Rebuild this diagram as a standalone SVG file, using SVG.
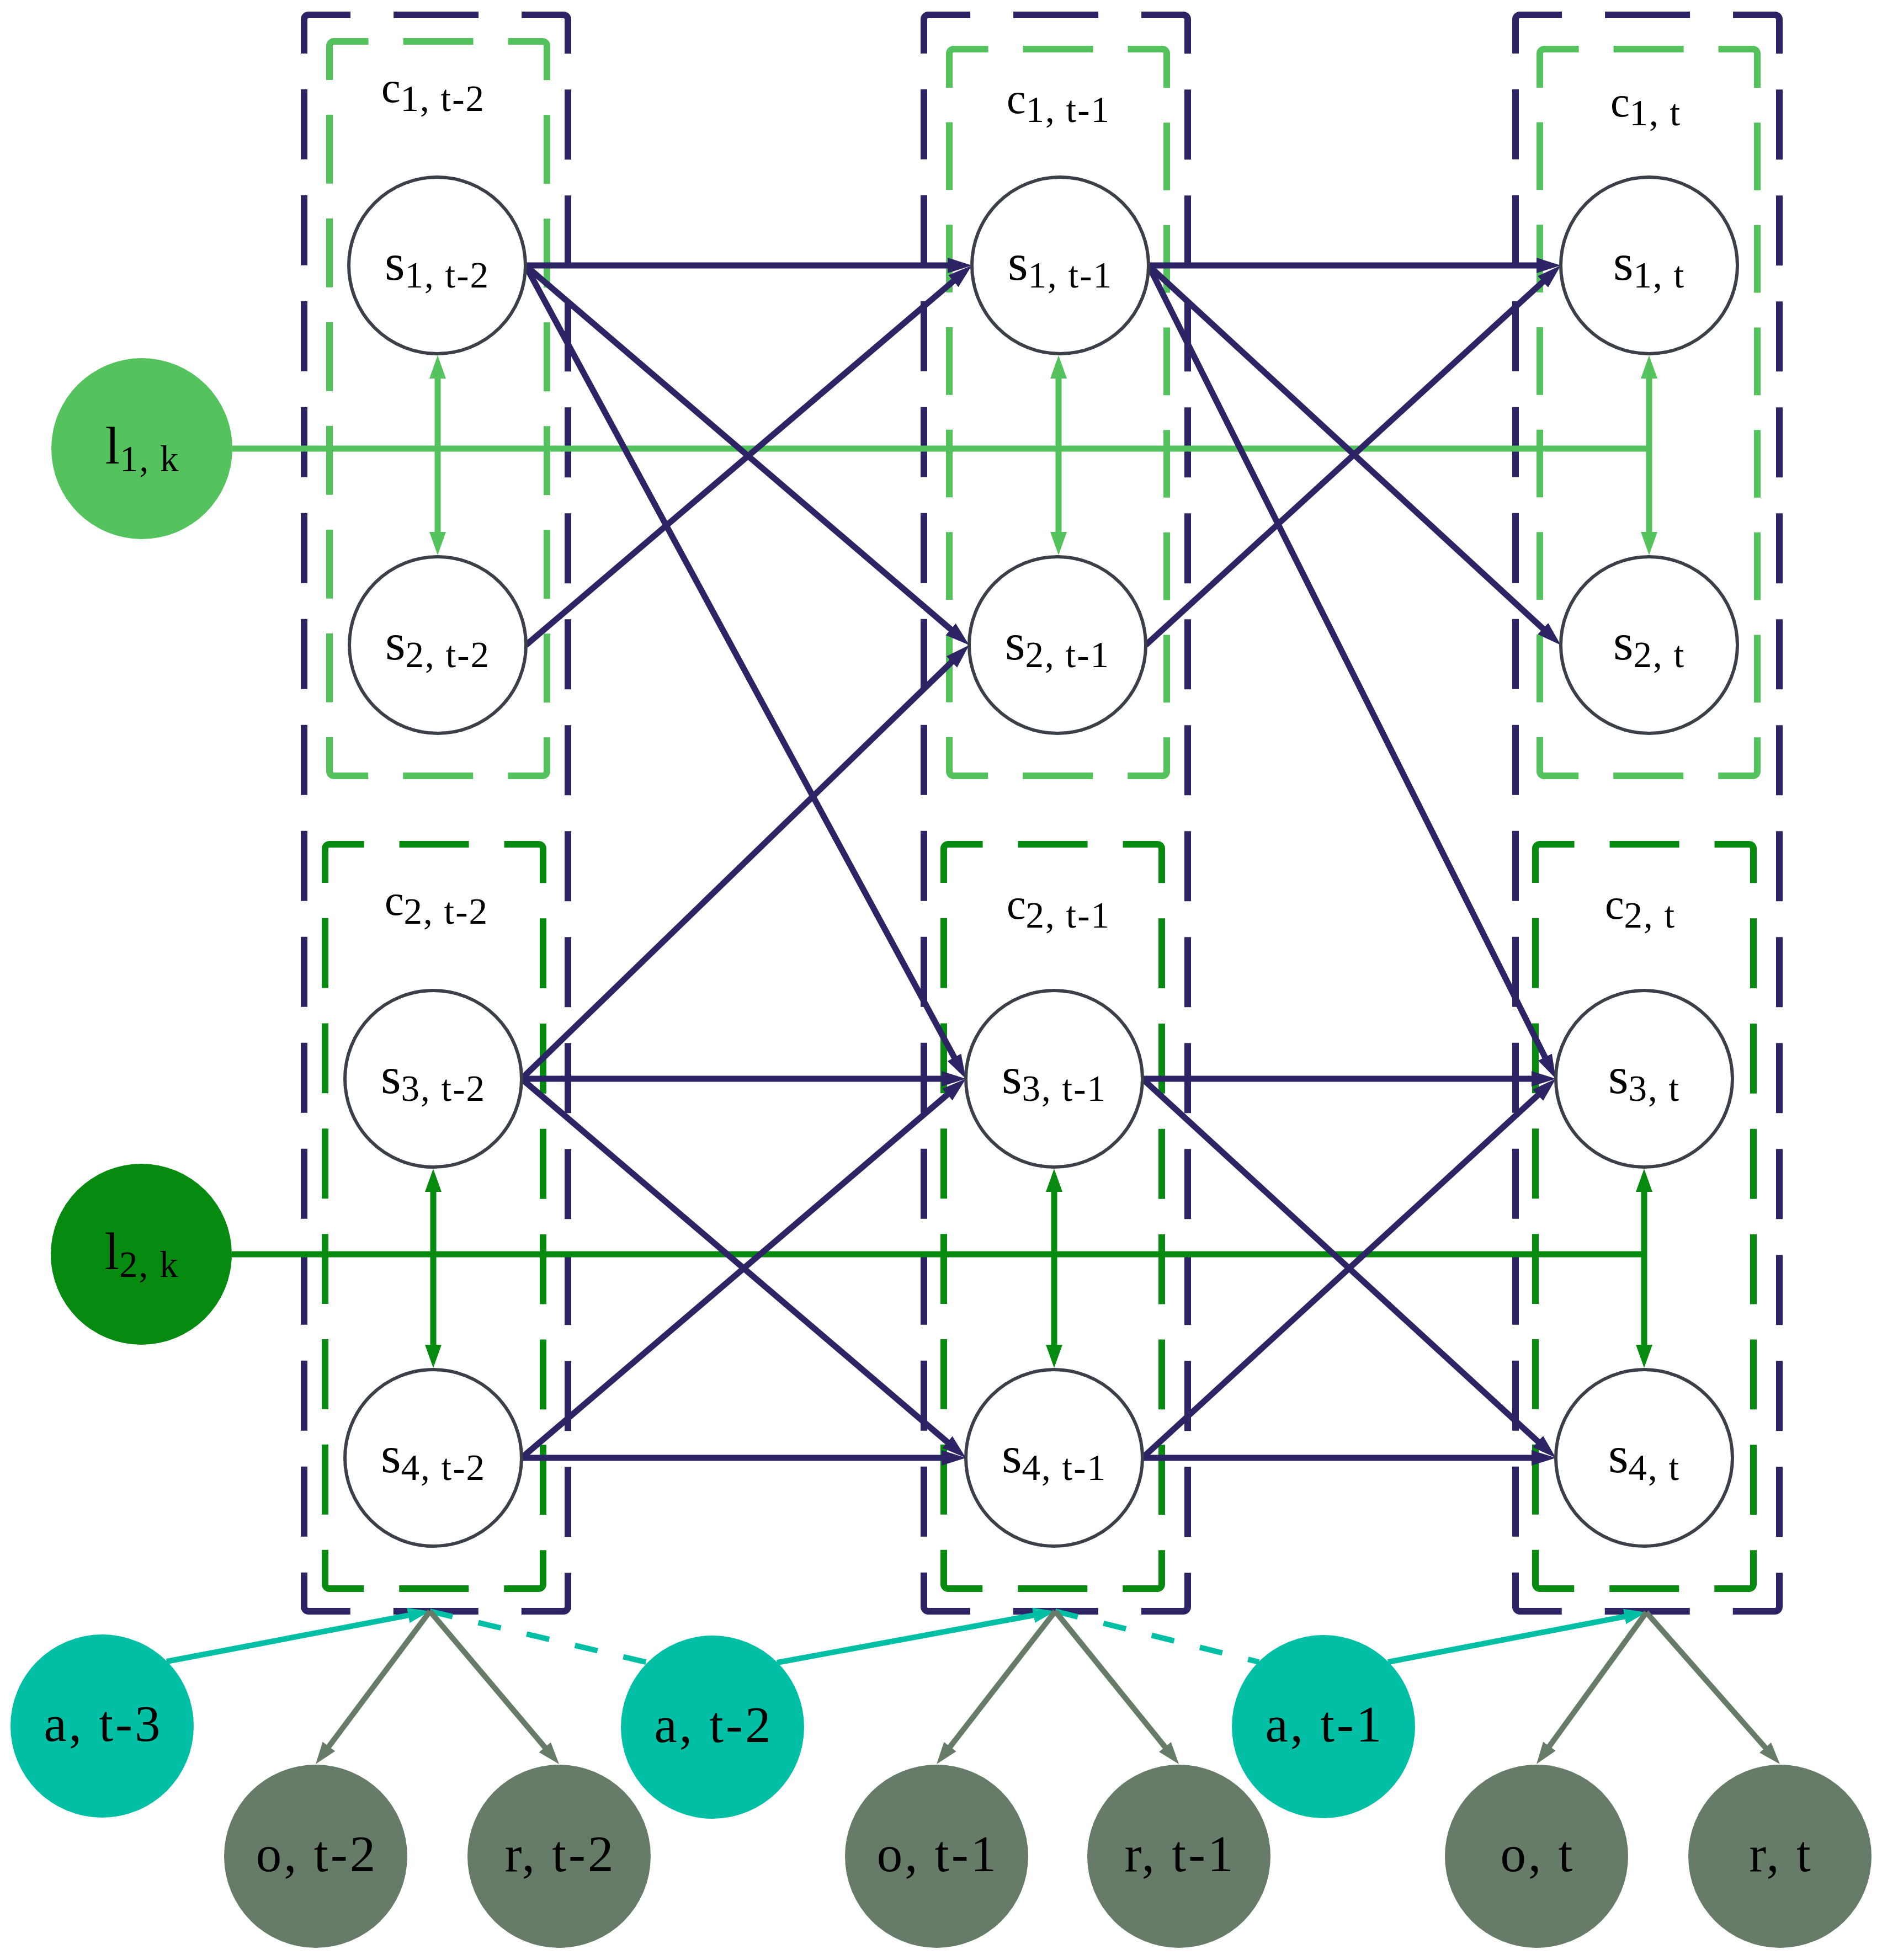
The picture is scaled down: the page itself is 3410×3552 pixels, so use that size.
<svg xmlns="http://www.w3.org/2000/svg" width="3410" height="3552" viewBox="0 0 3410 3552">
<defs>
<marker id="mNav" markerUnits="userSpaceOnUse" viewBox="0 -16 46 32" markerWidth="46" markerHeight="32" refX="4" refY="0" orient="auto"><path d="M0,-14 L44,0 L0,14 z" fill="#2d2466"/></marker>
<marker id="mLg" markerUnits="userSpaceOnUse" viewBox="0 -16 44 32" markerWidth="44" markerHeight="32" refX="4" refY="0" orient="auto-start-reverse"><path d="M0,-15 L42,0 L0,15 z" fill="#55c35d"/></marker>
<marker id="mDg" markerUnits="userSpaceOnUse" viewBox="0 -16 44 32" markerWidth="44" markerHeight="32" refX="4" refY="0" orient="auto-start-reverse"><path d="M0,-15 L42,0 L0,15 z" fill="#068a10"/></marker>
<marker id="mTeal" markerUnits="userSpaceOnUse" viewBox="0 -16 42 32" markerWidth="42" markerHeight="32" refX="4" refY="0" orient="auto"><path d="M0,-14 L40,0 L0,14 z" fill="#00bfa5"/></marker>
<marker id="mGrey" markerUnits="userSpaceOnUse" viewBox="0 -16 42 32" markerWidth="42" markerHeight="32" refX="4" refY="0" orient="auto"><path d="M0,-14 L40,0 L0,14 z" fill="#677b69"/></marker>
</defs>
<style>
.nv{fill:none;stroke:#2d2466;stroke-width:12;stroke-dasharray:150.57 78 154 78 150.57 65 127 65 127 65 127 65 127 65 127 65 127 65 127 65 127 65 127 65 127 65 127 65 127 65 127 65 127 65 150.57 78 154 78 150.57 65 127 65 127 65 127 65 127 65 127 65 127 65 127 65 127 65 127 65 127 65 127 65 127 65 127 65 127 65}
.lg1{fill:none;stroke:#55c35d;stroke-width:12;stroke-dasharray:137.07 63 127 63 137.07 63 125 63 125 63 125 63 125 63 125 63 125 63 137.07 63 127 63 137.07 63 125 63 125 63 125 63 125 63 125 63 125 63}
.lg2{fill:none;stroke:#55c35d;stroke-width:12;stroke-dasharray:137.07 63 127 63 137.07 63 122.67 63 122.67 63 122.67 63 122.67 63 122.67 63 122.67 63 137.07 63 127 63 137.07 63 122.67 63 122.67 63 122.67 63 122.67 63 122.67 63 122.67 63}
.dg{fill:none;stroke:#068a10;stroke-width:12;stroke-dasharray:137.07 64 126 64 137.07 64 126.83 64 126.83 64 126.83 64 126.83 64 126.83 64 126.83 64 137.07 64 126 64 137.07 64 126.83 64 126.83 64 126.83 64 126.83 64 126.83 64 126.83 64}
.st{fill:#fff;stroke:#3b3f47;stroke-width:6}
.e{fill:none;stroke:#2d2466;stroke-width:11;marker-end:url(#mNav)}
.gl{fill:none;stroke:#55c35d;stroke-width:11}
.gla{fill:none;stroke:#55c35d;stroke-width:11;marker-start:url(#mLg);marker-end:url(#mLg)}
.dl{fill:none;stroke:#068a10;stroke-width:11}
.dla{fill:none;stroke:#068a10;stroke-width:11;marker-start:url(#mDg);marker-end:url(#mDg)}
.ta{fill:none;stroke:#00bfa5;stroke-width:10;marker-end:url(#mTeal)}
.td{fill:none;stroke:#00bfa5;stroke-width:10;stroke-dasharray:42 48}
.ga{fill:none;stroke:#677b69;stroke-width:10;marker-end:url(#mGrey)}
.an{fill:#00bfa5}
.on{fill:#677b69}
text{font-family:"Liberation Serif","DejaVu Serif",serif;fill:#000;text-anchor:middle}
.sm{font-size:94px}
.cm{font-size:78px}
.lm{font-size:96px}
.sb{font-size:67px;letter-spacing:2px}
.bl{font-size:93px;letter-spacing:4px}
</style>
<rect x="0" y="0" width="3410" height="3552" fill="#fff"/>

<g id="clusters">
<g id="outer-t-2"><path class="nv" d="M551 97 V35 A8 8 0 0 1 559 27 H1021 A8 8 0 0 1 1029 35 V2912 A8 8 0 0 1 1021 2920 H559 A8 8 0 0 1 551 2912 Z"/></g>
<g id="outer-t-1"><path class="nv" d="M1674 97 V35 A8 8 0 0 1 1682 27 H2144 A8 8 0 0 1 2152 35 V2912 A8 8 0 0 1 2144 2920 H1682 A8 8 0 0 1 1674 2912 Z"/></g>
<g id="outer-t"><path class="nv" d="M2746 97 V35 A8 8 0 0 1 2754 27 H3216 A8 8 0 0 1 3224 35 V2912 A8 8 0 0 1 3216 2920 H2754 A8 8 0 0 1 2746 2912 Z"/></g>
<g id="c1-t-2"><path class="lg1" d="M597 145 V83 A8 8 0 0 1 605 75 H983 A8 8 0 0 1 991 83 V1398 A8 8 0 0 1 983 1406 H605 A8 8 0 0 1 597 1398 Z"/>
<text x="785" y="185"><tspan class="cm">c</tspan><tspan class="sb" dy="16">1, t-2</tspan></text></g>
<g id="c1-t-1"><path class="lg2" d="M1720 159 V97 A8 8 0 0 1 1728 89 H2106 A8 8 0 0 1 2114 97 V1398 A8 8 0 0 1 2106 1406 H1728 A8 8 0 0 1 1720 1398 Z"/>
<text x="1918" y="205"><tspan class="cm">c</tspan><tspan class="sb" dy="16">1, t-1</tspan></text></g>
<g id="c1-t"><path class="lg2" d="M2790 159 V97 A8 8 0 0 1 2798 89 H3176 A8 8 0 0 1 3184 97 V1398 A8 8 0 0 1 3176 1406 H2798 A8 8 0 0 1 2790 1398 Z"/>
<text x="2982" y="211"><tspan class="cm">c</tspan><tspan class="sb" dy="16">1, t</tspan></text></g>
<g id="c2-t-2"><path class="dg" d="M589 1600 V1538 A8 8 0 0 1 597 1530 H976 A8 8 0 0 1 984 1538 V2871 A8 8 0 0 1 976 2879 H597 A8 8 0 0 1 589 2871 Z"/>
<text x="791" y="1658"><tspan class="cm">c</tspan><tspan class="sb" dy="16">2, t-2</tspan></text></g>
<g id="c2-t-1"><path class="dg" d="M1710 1600 V1538 A8 8 0 0 1 1718 1530 H2097 A8 8 0 0 1 2105 1538 V2871 A8 8 0 0 1 2097 2879 H1718 A8 8 0 0 1 1710 2871 Z"/>
<text x="1918" y="1665"><tspan class="cm">c</tspan><tspan class="sb" dy="16">2, t-1</tspan></text></g>
<g id="c2-t"><path class="dg" d="M2782 1600 V1538 A8 8 0 0 1 2790 1530 H3169 A8 8 0 0 1 3177 1538 V2871 A8 8 0 0 1 3169 2879 H2790 A8 8 0 0 1 2782 2871 Z"/>
<text x="2972" y="1665"><tspan class="cm">c</tspan><tspan class="sb" dy="16">2, t</tspan></text></g>
</g>

<g id="connectors">
<path class="gl" d="M421 813 H2988"/>
<path class="gla" d="M793 682 V968"/>
<path class="gla" d="M1918 682 V968"/>
<path class="gla" d="M2988 682 V968"/>
<path class="dl" d="M420 2273 H2979"/>
<path class="dla" d="M785 2156 V2441"/>
<path class="dla" d="M1910 2156 V2441"/>
<path class="dla" d="M2979 2156 V2441"/>

<path class="e" d="M952 481 L1721 481"/>
<path class="e" d="M952 481 L1725.6 1143"/>
<path class="e" d="M952 481 L1731 1919.8"/>
<path class="e" d="M953 1169 L1730.5 506.9"/>
<path class="e" d="M945 1955 L1727.3 1196.8"/>
<path class="e" d="M945 1955 L1710 1955"/>
<path class="e" d="M945 1955 L1719.6 2616"/>
<path class="e" d="M945 2642 L1719.6 1981"/>
<path class="e" d="M945 2642 L1710 2642"/>
<path class="e" d="M2081 481 L2788 481"/>
<path class="e" d="M2081 481 L2798.6 1141.9"/>
<path class="e" d="M2081 481 L2801.1 1919.2"/>
<path class="e" d="M2076 1169 L2798.5 508"/>
<path class="e" d="M2070 1955 L2779 1955"/>
<path class="e" d="M2070 1955 L2789.5 2615"/>
<path class="e" d="M2070 2642 L2789.5 1982"/>
<path class="e" d="M2070 2642 L2779 2642"/>

<path class="ta" d="M302 3011 L743.6 2926.7"/>
<path class="ta" d="M1408 3013 L1876.6 2926.5"/>
<path class="ta" d="M2515 3012 L2947.6 2928.8"/>
<path class="td" d="M779 2920 L1174 3013"/>
<path class="td" d="M1912 2920 L2281 3012"/>
<path class="ga" d="M779 2920 L593.5 3168.2"/>
<path class="ga" d="M779 2920 L989.8 3169.5"/>
<path class="ga" d="M1912 2920 L1719.1 3168.6"/>
<path class="ga" d="M1912 2920 L2113.4 3169"/>
<path class="ga" d="M2983 2922 L2805.1 3167.8"/>
<path class="ga" d="M2983 2922 L3201.2 3170"/>
</g>

<g id="nodes">
<g id="s1-t-2"><circle class="st" cx="792" cy="481" r="160"/><text x="792" y="507"><tspan class="sm">s</tspan><tspan class="sb" dy="14">1, t-2</tspan></text></g>
<g id="s2-t-2"><circle class="st" cx="793" cy="1169" r="160"/><text x="793" y="1195"><tspan class="sm">s</tspan><tspan class="sb" dy="14">2, t-2</tspan></text></g>
<g id="s3-t-2"><circle class="st" cx="785" cy="1955" r="160"/><text x="785" y="1981"><tspan class="sm">s</tspan><tspan class="sb" dy="14">3, t-2</tspan></text></g>
<g id="s4-t-2"><circle class="st" cx="785" cy="2642" r="160"/><text x="785" y="2668"><tspan class="sm">s</tspan><tspan class="sb" dy="14">4, t-2</tspan></text></g>
<g id="s1-t-1"><circle class="st" cx="1921" cy="481" r="160"/><text x="1921" y="507"><tspan class="sm">s</tspan><tspan class="sb" dy="14">1, t-1</tspan></text></g>
<g id="s2-t-1"><circle class="st" cx="1916" cy="1169" r="160"/><text x="1916" y="1195"><tspan class="sm">s</tspan><tspan class="sb" dy="14">2, t-1</tspan></text></g>
<g id="s3-t-1"><circle class="st" cx="1910" cy="1955" r="160"/><text x="1910" y="1981"><tspan class="sm">s</tspan><tspan class="sb" dy="14">3, t-1</tspan></text></g>
<g id="s4-t-1"><circle class="st" cx="1910" cy="2642" r="160"/><text x="1910" y="2668"><tspan class="sm">s</tspan><tspan class="sb" dy="14">4, t-1</tspan></text></g>
<g id="s1-t"><circle class="st" cx="2988" cy="481" r="160"/><text x="2988" y="507"><tspan class="sm">s</tspan><tspan class="sb" dy="14">1, t</tspan></text></g>
<g id="s2-t"><circle class="st" cx="2988" cy="1169" r="160"/><text x="2988" y="1195"><tspan class="sm">s</tspan><tspan class="sb" dy="14">2, t</tspan></text></g>
<g id="s3-t"><circle class="st" cx="2979" cy="1955" r="160"/><text x="2979" y="1981"><tspan class="sm">s</tspan><tspan class="sb" dy="14">3, t</tspan></text></g>
<g id="s4-t"><circle class="st" cx="2979" cy="2642" r="160"/><text x="2979" y="2668"><tspan class="sm">s</tspan><tspan class="sb" dy="14">4, t</tspan></text></g>

<g id="l1-k"><circle cx="257" cy="813" r="164" fill="#55c35d"/><text x="258" y="840"><tspan class="lm">l</tspan><tspan class="sb" dy="14">1, k</tspan></text></g>
<g id="l2-k"><circle cx="256" cy="2273" r="164" fill="#068a10"/><text x="257" y="2300"><tspan class="lm">l</tspan><tspan class="sb" dy="14">2, k</tspan></text></g>

<g id="a-t-3"><circle class="an" cx="185" cy="3128" r="166"/><text class="bl" x="187" y="3155">a, t-3</text></g>
<g id="a-t-2"><circle class="an" cx="1291" cy="3130" r="166"/><text class="bl" x="1293" y="3157">a, t-2</text></g>
<g id="a-t-1"><circle class="an" cx="2398" cy="3129" r="166"/><text class="bl" x="2400" y="3156">a, t-1</text></g>
<g id="o-t-2"><circle class="on" cx="572" cy="3364" r="166"/><text class="bl" x="574" y="3391">o, t-2</text></g>
<g id="r-t-2"><circle class="on" cx="1013" cy="3364" r="166"/><text class="bl" x="1015" y="3391">r, t-2</text></g>
<g id="o-t-1"><circle class="on" cx="1697" cy="3364" r="166"/><text class="bl" x="1699" y="3391">o, t-1</text></g>
<g id="r-t-1"><circle class="on" cx="2136" cy="3364" r="166"/><text class="bl" x="2138" y="3391">r, t-1</text></g>
<g id="o-t"><circle class="on" cx="2784" cy="3364" r="166"/><text class="bl" x="2786" y="3391">o, t</text></g>
<g id="r-t"><circle class="on" cx="3225" cy="3364" r="166"/><text class="bl" x="3227" y="3391">r, t</text></g>
</g>
</svg>
